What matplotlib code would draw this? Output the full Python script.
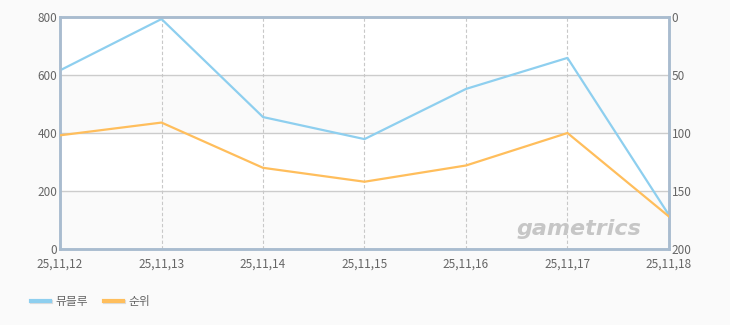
import matplotlib
matplotlib.use("Agg")
import matplotlib.pyplot as plt
import matplotlib.patheffects as pe
import numpy as np

plt.rcParams['font.family'] = ['Noto Sans CJK KR', 'DejaVu Sans']

dates = ["25,11,12", "25,11,13", "25,11,14", "25,11,15", "25,11,16", "25,11,17", "25,11,18"]
views = [616, 793, 455, 379, 552, 659, 117]      # 뮤블루 (left axis)
rank = [102, 91, 130, 142, 128, 100, 172]        # 순위 (right axis, inverted)

blue = "#8ecfef"
orange = "#ffbe5c"
spine_c = "#a9bccf"
txt_c = "#666666"

fig = plt.figure(figsize=(7.3, 3.25), dpi=100, facecolor="#fafafa")
ax = fig.add_axes([0.0822, 0.2338, 0.8342, 0.7139])
ax.set_facecolor("white")

x = np.arange(len(dates))
ax.set_xlim(0, len(dates) - 1)
ax.set_ylim(0, 800)

# alternating bands
for lo, hi in [(0, 200), (400, 600)]:
    ax.axhspan(lo, hi, color="#fafafa", zorder=0, lw=0)
for yv in [200, 400, 600]:
    ax.axhline(yv, color="#cccccc", lw=1, zorder=1)
for xv in x[1:-1]:
    ax.axvline(xv, color="#c8c8c8", lw=0.8, ls=(0, (3, 2)), zorder=1)

ax.plot(x, views, color=blue, lw=1.6, zorder=3, label="뮤블루")

ax2 = ax.twinx()
ax2.set_ylim(200, 0)
ax2.plot(x, rank, color=orange, lw=1.6, zorder=3, label="순위")

ax.set_xticks(x)
ax.set_xticklabels(dates)
ax.set_yticks([0, 200, 400, 600, 800])
ax2.set_yticks([0, 50, 100, 150, 200])
for a in (ax, ax2):
    a.tick_params(length=0, labelsize=8.5, labelcolor=txt_c, pad=2)
    for s in a.spines.values():
        s.set_color(spine_c)
        s.set_linewidth(1.8)
ax.tick_params(axis="x", pad=6)

ax.text(0.955, 0.045, "gametrics", transform=ax.transAxes, ha="right", va="bottom",
        fontsize=16, style="italic", weight="bold", color="#c6c6c6",
        family="DejaVu Sans", zorder=2)

h1, l1 = ax.get_legend_handles_labels()
h2, l2 = ax2.get_legend_handles_labels()
leg = fig.legend(h1 + h2, l1 + l2, loc="lower left", bbox_to_anchor=(0.028, 0.02), ncol=2,
                 frameon=False, fontsize=8.5, handlelength=1.6, columnspacing=1.3,
                 handletextpad=0.5)
for t in leg.get_texts():
    t.set_color(txt_c)
for lh in leg.get_lines():
    lh.set_linewidth(3)
    lh.set_path_effects([pe.SimpleLineShadow(offset=(1, -1), shadow_color="#dddddd", alpha=1), pe.Normal()])

fig.savefig("out.png", dpi=100, facecolor=fig.get_facecolor())
